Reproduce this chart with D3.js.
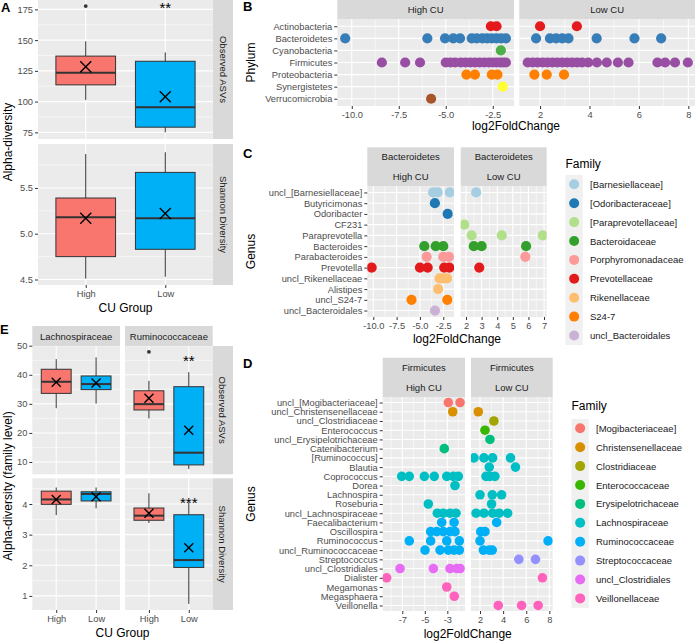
<!DOCTYPE html>
<html><head><meta charset="utf-8">
<script src="https://cdn.jsdelivr.net/npm/d3@7"></script>
<style>body{margin:0;background:#fff}</style>
</head><body><script>
// ---------------- DATA ----------------
const cuGroups = ["High", "Low"];
const groupColors = ["#F8766D", "#00B0F6"];
// box stats: [lowerWhisker, q1, median, q3, upperWhisker, mean]
const aObservedStats = [[101.4, 113.6, 123.5, 137, 149, 128.4], [75, 79.2, 95.5, 132.8, 140, 104]];
const aObservedOutliers = [[177.7], []];
const aShannonStats = [[4.51, 4.75, 5.18, 5.39, 5.87, 5.17], [4.53, 4.83, 5.17, 5.67, 5.89, 5.22]];
const aObservedSig = ["", "**"];
const aTicksObserved = [75, 100, 125, 150, 175];
const aTicksShannon = [4.5, 5.0, 5.5];

const eFamilies = ["Lachnospiraceae", "Ruminococcaceae"];
const eObservedStats = [
  [[28.5, 33.6, 37.6, 41.9, 45.4, 37.4], [30.1, 34.9, 36.8, 39.6, 46, 37.2]],
  [[25, 27.9, 29.9, 34.5, 37.9, 31.9], [7.6, 9.0, 13.2, 35.9, 40.9, 20.9]]];
const eObservedOutliers = [[[], []], [[47.9], []]];
const eShannonStats = [
  [[3.64, 3.99, 4.15, 4.42, 4.54, 4.15], [3.86, 4.1, 4.33, 4.4, 4.54, 4.24]],
  [[3.38, 3.47, 3.62, 3.87, 4.35, 3.7], [0.74, 1.93, 2.17, 3.65, 4.05, 2.57]]];
const eObservedSig = [["", ""], ["", "**"]];
const eShannonSig = [["", ""], ["", "***"]];
const eTicksObserved = [10, 20, 30, 40, 50];
const eTicksShannon = [1, 2, 3, 4];

const phyla = ["Actinobacteria", "Bacteroidetes", "Cyanobacteria", "Firmicutes", "Proteobacteria", "Synergistetes", "Verrucomicrobia"];
const phylumColors = ["#E41A1C", "#377EB8", "#4DAF4A", "#984EA3", "#FF7F00", "#FFFF33", "#A65628"];
const bHighLFC = [
  [-2.6, -2.3],
  [-10.35, -5.98, -5.04, -4.6, -4.24, -3.62, -3.35, -3.05, -2.8, -2.55, -2.3, -2.05, -1.8],
  [-2.07],
  [-8.4, -7.16, -6.37, -5.0, -4.75, -4.5, -4.2, -3.95, -3.7, -3.45, -3.2, -2.95, -2.7, -2.5, -2.3, -2.1, -1.95, -1.8],
  [-3.9, -3.45, -2.55, -2.25],
  [-1.97],
  [-5.78]];
const bLowLFC = [
  [2.0, 3.49],
  [1.84, 2.4, 2.65, 2.9, 3.15, 4.29, 5.82, 6.9],
  [],
  [1.5, 1.7, 1.9, 2.1, 2.3, 2.5, 2.7, 2.9, 3.1, 3.3, 3.5, 3.7, 3.95, 4.3, 4.7, 5.15, 5.58, 6.75, 7.06, 7.46, 7.98],
  [1.77, 2.27, 2.97],
  [],
  []];
const bTicksHigh = [-10, -7.5, -5, -2.5];
const bTicksLow = [2, 4, 6, 8];

const cFamilies = ["[Barnesiellaceae]", "[Odoribacteraceae]", "[Paraprevotellaceae]", "Bacteroidaceae", "Porphyromonadaceae", "Prevotellaceae", "Rikenellaceae", "S24-7", "uncl_Bacteroidales"];
const cFamilyColors = ["#A6CEE3", "#1F78B4", "#B2DF8A", "#33A02C", "#FB9A99", "#E31A1C", "#FDBF6F", "#FF7F00", "#CAB2D6"];
const cGenera = ["uncl_[Barnesiellaceae]", "Butyricimonas", "Odoribacter", "CF231", "Paraprevotella", "Bacteroides", "Parabacteroides", "Prevotella", "uncl_Rikenellaceae", "Alistipes", "uncl_S24-7", "uncl_Bacteroidales"];
const cGenusFamily = [0, 1, 1, 2, 2, 3, 4, 5, 6, 6, 7, 8];
const cHighLFC = [[-3.6, -3.1, -1.8], [-3.4], [-2.03], [], [], [-4.53, -3.31, -2.5], [-4.28, -2.5, -1.9],
  [-10.17, -5.0, -4.17, -2.4, -1.85], [-2.9, -2.5, -2.1], [-3.05], [-5.9, -2.07], [-3.39]];
const cLowLFC = [[2.65], [], [], [1.89], [2.36, 4.29, 6.92], [2.5, 3.0, 5.85], [5.8], [2.85], [], [], [], []];
const cTicksHigh = [-10, -7.5, -5, -2.5];
const cTicksLow = [2, 3, 4, 5, 6, 7];

const dFamilies = ["[Mogibacteriaceae]", "Christensenellaceae", "Clostridiaceae", "Enterococcaceae", "Erysipelotrichaceae", "Lachnospiraceae", "Ruminococcaceae", "Streptococcaceae", "uncl_Clostridiales", "Veillonellaceae"];
const dFamilyColors = ["#F8766D", "#D89000", "#A3A500", "#39B600", "#00BF7D", "#00BFC4", "#00B0F6", "#9590FF", "#E76BF3", "#FF62BC"];
const dGenera = ["uncl_[Mogibacteriaceae]", "uncl_Christensenellaceae", "uncl_Clostridiaceae", "Enterococcus", "uncl_Erysipelotrichaceae", "Catenibacterium", "[Ruminococcus]", "Blautia", "Coprococcus", "Dorea", "Lachnospira", "Roseburia", "uncl_Lachnospiraceae", "Faecalibacterium", "Oscillospira", "Ruminococcus", "uncl_Ruminococcaceae", "Streptococcus", "uncl_Clostridiales", "Dialister", "Megamonas", "Megasphaera", "Veillonella"];
const dGenusFamily = [0, 1, 2, 3, 4, 4, 5, 5, 5, 5, 5, 5, 5, 6, 6, 6, 6, 7, 8, 9, 9, 9, 9];
const dHighLFC = [[-2.91, -1.87], [-2.52], [], [], [], [-3.27], [], [],
  [-7.05, -6.38, -5.04, -4.16, -3.05, -2.47, -2.02], [-2.32], [], [-4.69], [-3.89, -3.36, -2.76, -2.23],
  [-3.5, -2.4], [-4.48, -3.94, -3.36, -2.76, -2.32], [-6.38, -4.48, -3.05, -1.93], [-4.98, -3.65, -2.91, -2.4, -1.93],
  [], [-7.2, -4.24, -2.76, -2.16, -1.87], [-8.39], [-3.05], [-2.38], []];
const dLowLFC = [[], [1.85], [3.2], [2.43], [2.86], [], [1.48, 2.34, 3.09, 4.64], [2.8, 5.07], [2.52, 2.86, 3.29], [],
  [2.0, 3.06, 3.87], [3.0], [1.66, 2.34, 3.09, 3.66, 4.39], [3.44], [2.06, 2.43], [2.0, 7.89], [2.29, 2.8, 3.06],
  [5.36, 6.8], [], [7.4], [], [], [3.58, 5.6, 7.03]];
const dTicksHigh = [-7, -5, -3];
const dTicksLow = [2, 4, 6, 8];

// ---------------- DRAWING ----------------
const W = 696, H = 641;
const FONT = '"Liberation Sans", Arial, Helvetica, sans-serif';
const BG = "#EBEBEB", STRIP = "#D9D9D9";
const svg = d3.select("body").append("svg").attr("width", W).attr("height", H).style("display", "block");
svg.append("rect").attr("width", W).attr("height", H).attr("fill", "#fff");
const defs = svg.append("defs");
let clipN = 0;

function txt(x, y, s, o = {}) {
  const t = svg.append("text").attr("x", x).attr("y", y).text(s)
    .attr("font-family", FONT).attr("font-size", o.size || 9.5)
    .attr("fill", o.fill || "#1A1A1A").attr("text-anchor", o.anchor || "start");
  if (o.weight) t.attr("font-weight", o.weight);
  if (o.rotate != null) t.attr("transform", `rotate(${o.rotate},${x},${y})`);
  if (o.central) t.attr("dominant-baseline", "central");
  return t;
}
function rect(x0, y0, x1, y1, fill) {
  return svg.append("rect").attr("x", x0).attr("y", y0).attr("width", x1 - x0).attr("height", y1 - y0).attr("fill", fill);
}
function line(x1, y1, x2, y2, col, w, parent) {
  return (parent || svg).append("line").attr("x1", x1).attr("y1", y1).attr("x2", x2).attr("y2", y2)
    .attr("stroke", col).attr("stroke-width", w);
}
function minorOf(major, domain) {
  const lo = Math.min(...domain), hi = Math.max(...domain);
  const step = major[1] - major[0];
  const out = [];
  for (let i = -1; i < major.length; i++) {
    const v = (i < 0 ? major[0] - step / 2 : major[i] + step / 2);
    if (v > lo && v < hi) out.push(v);
  }
  return out;
}
function panel(x0, x1, y0, y1, xs, xMajor, xMinor, ys, yMajor, yMinor) {
  rect(x0, y0, x1, y1, BG);
  const p = (s) => (s.bandwidth ? s(s.domain()[0]) !== undefined : true);
  xMinor.forEach(v => line(xs(v), y0, xs(v), y1, "#fff", 0.55));
  yMinor.forEach(v => line(x0, ys(v), x1, ys(v), "#fff", 0.55));
  xMajor.forEach(v => line(xs(v), y0, xs(v), y1, "#fff", 1.1));
  yMajor.forEach(v => line(x0, ys(v), x1, ys(v), "#fff", 1.1));
}
function clipLayer(x0, x1, y0, y1) {
  const id = "clip" + (clipN++);
  defs.append("clipPath").attr("id", id).append("rect").attr("x", x0).attr("y", y0).attr("width", x1 - x0).attr("height", y1 - y0);
  return svg.append("g").attr("clip-path", `url(#${id})`);
}
function axis(gen, tx, ty) {
  const g = svg.append("g").attr("transform", `translate(${tx},${ty})`).call(gen);
  g.attr("font-family", FONT).attr("font-size", 9.3);
  g.select(".domain").remove();
  g.selectAll(".tick line").attr("stroke", "#333333");
  g.selectAll(".tick text").attr("fill", "#4D4D4D");
  return g;
}
const fmt1 = v => v.toFixed(1);
const fmt0 = v => String(v);
function strip(x0, x1, y0, y1, lines, vertical) {
  rect(x0, y0, x1, y1, STRIP);
  const cx = (x0 + x1) / 2, cy = (y0 + y1) / 2;
  if (vertical) {
    txt(cx, cy, lines[0], {anchor: "middle", rotate: 90, central: true});
  } else if (lines.length === 1) {
    txt(cx, cy, lines[0], {anchor: "middle", central: true});
  } else {
    const h = (y1 - y0) / lines.length;
    lines.forEach((l, i) => txt(cx, y0 + h * (i + 0.5), l, {anchor: "middle", central: true}));
  }
}
function drawBox(cx, hw, ys, s, color, outliers, meanSize) {
  const [lo, q1, med, q3, hi, mean] = s;
  line(cx, ys(hi), cx, ys(q3), "#333333", 1);
  line(cx, ys(q1), cx, ys(lo), "#333333", 1);
  svg.append("rect").attr("x", cx - hw).attr("y", ys(q3)).attr("width", 2 * hw).attr("height", ys(q1) - ys(q3))
    .attr("fill", color).attr("stroke", "#333333").attr("stroke-width", 1);
  line(cx - hw, ys(med), cx + hw, ys(med), "#333333", 2);
  (outliers || []).forEach(v => svg.append("circle").attr("cx", cx).attr("cy", ys(v)).attr("r", 1.9).attr("fill", "#333333"));
  const m = ys(mean), k = meanSize;
  line(cx - k, m - k, cx + k, m + k, "#000", 1.4);
  line(cx - k, m + k, cx + k, m - k, "#000", 1.4);
}
function sig(x, y, s) {
  if (s) txt(x, y + 8.6, s, {anchor: "middle", size: 15, fill: "#000"});
}

// ===== Panel A =====
{
  const x0 = 38, x1 = 213;
  const xs = d3.scalePoint().domain(cuGroups).range([x0, x1]).padding(0.6);
  const hw = xs.step() * 0.375;
  const yObs = d3.scaleLinear().domain([69.6, 182.6]).range([139, 0]);
  const ySha = d3.scaleLinear().domain([4.44, 5.98]).range([285, 144]);
  panel(x0, x1, 0, 139, xs, cuGroups, [], yObs, aTicksObserved, minorOf(aTicksObserved, yObs.domain()));
  panel(x0, x1, 144, 285, xs, cuGroups, [], ySha, aTicksShannon, minorOf(aTicksShannon, ySha.domain()));
  cuGroups.forEach((g, i) => {
    drawBox(xs(g), hw, yObs, aObservedStats[i], groupColors[i], aObservedOutliers[i], 5.5);
    drawBox(xs(g), hw, ySha, aShannonStats[i], groupColors[i], [], 5.5);
    sig(xs(g), yObs(178.9), aObservedSig[i]);
  });
  strip(x1, 233, 0, 139, ["Observed ASVs"], true);
  strip(x1, 233, 144, 285, ["Shannon Diversity"], true);
  axis(d3.axisLeft(yObs).tickValues(aTicksObserved).tickSize(3).tickPadding(2).tickFormat(fmt0), x0, 0);
  axis(d3.axisLeft(ySha).tickValues(aTicksShannon).tickSize(3).tickPadding(2).tickFormat(fmt1), x0, 0);
  axis(d3.axisBottom(xs).tickSize(3).tickPadding(2), 0, 285);
  txt(125.5, 311.5, "CU Group", {anchor: "middle", size: 12, fill: "#000"});
  txt(12, 142, "Alpha-diversity", {anchor: "middle", size: 12, fill: "#000", rotate: -90});
  txt(1, 12, "A", {size: 13, weight: "bold", fill: "#000"});
}

// ===== Panel E =====
{
  const cols = [[32.3, 120], [125, 212.7]];
  const yObs = d3.scaleLinear().domain([5.77, 49.9]).range([474.3, 346]);
  const ySha = d3.scaleLinear().domain([0.54, 4.84]).range([610, 478.3]);
  cols.forEach(([x0, x1], f) => {
    const xs = d3.scalePoint().domain(cuGroups).range([x0, x1]).padding(0.6);
    const hw = xs.step() * 0.375;
    panel(x0, x1, 346, 474.3, xs, cuGroups, [], yObs, eTicksObserved, minorOf(eTicksObserved, yObs.domain()));
    panel(x0, x1, 478.3, 610, xs, cuGroups, [], ySha, eTicksShannon, minorOf(eTicksShannon, ySha.domain()));
    cuGroups.forEach((g, i) => {
      drawBox(xs(g), hw, yObs, eObservedStats[f][i], groupColors[i], eObservedOutliers[f][i], 4.5);
      drawBox(xs(g), hw, ySha, eShannonStats[f][i], groupColors[i], [], 4.5);
      sig(xs(g), yObs(45.9), eObservedSig[f][i]);
      sig(xs(g), ySha(4.16), eShannonSig[f][i]);
    });
    strip(x0, x1, 326, 346, [eFamilies[f]], false);
    axis(d3.axisBottom(xs).tickSize(3).tickPadding(2), 0, 610);
  });
  strip(212.7, 233, 346, 474.3, ["Observed ASVs"], true);
  strip(212.7, 233, 478.3, 610, ["Shannon Diversity"], true);
  axis(d3.axisLeft(yObs).tickValues(eTicksObserved).tickSize(3).tickPadding(2).tickFormat(fmt0), 32.3, 0);
  axis(d3.axisLeft(ySha).tickValues(eTicksShannon).tickSize(3).tickPadding(2).tickFormat(fmt0), 32.3, 0);
  txt(122.5, 637, "CU Group", {anchor: "middle", size: 12, fill: "#000"});
  txt(12, 486, "Alpha-diversity (family level)", {anchor: "middle", size: 12, fill: "#000", rotate: -90});
  txt(0, 334, "E", {size: 13, weight: "bold", fill: "#000"});
}

// ===== generic dot-plot panel pair =====
function dotPanels(cfg) {
  const ys = d3.scalePoint().domain(cfg.cats).range([cfg.y0, cfg.y1]).padding(0.6);
  [["high", cfg.xHigh, cfg.domHigh, cfg.ticksHigh, cfg.valsHigh, cfg.stripHigh],
   ["low", cfg.xLow, cfg.domLow, cfg.ticksLow, cfg.valsLow, cfg.stripLow]].forEach(([k, xr, dom, ticks, vals, st]) => {
    const xs = d3.scaleLinear().domain(dom).range(xr);
    panel(xr[0], xr[1], cfg.y0, cfg.y1, xs, ticks, minorOf(ticks, dom), ys, cfg.cats, []);
    strip(xr[0], xr[1], cfg.sy0, cfg.y0, st, false);
    const layer = clipLayer(xr[0], xr[1], cfg.y0, cfg.y1);
    cfg.cats.forEach((c, i) => {
      vals[i].forEach(v => layer.append("circle").attr("cx", xs(v)).attr("cy", ys(c)).attr("r", cfg.r)
        .attr("fill", cfg.color(i)));
    });
    axis(d3.axisBottom(xs).tickValues(ticks).tickSize(3).tickPadding(2).tickFormat(cfg.fmt), 0, cfg.y1);
  });
  axis(d3.axisLeft(ys).tickSize(3).tickPadding(2), cfg.xHigh[0], 0);
}
function legend(x, titleY, firstY, names, colors) {
  txt(x, titleY, "Family", {size: 12, fill: "#000"});
  const step = 18.9;
  rect(x, firstY - step / 2, x + 17.3, firstY + step * (names.length - 0.5), "#F0F0F0");
  names.forEach((n, i) => {
    const y = firstY + i * step;
    svg.append("circle").attr("cx", x + 8.65).attr("cy", y).attr("r", 5).attr("fill", colors[i]);
    txt(x + 24.5, y, n, {central: true, size: 9.5});
  });
}

// ===== Panel B =====
dotPanels({
  cats: phyla, y0: 19, y1: 106, sy0: 0,
  xHigh: [337.3, 514], domHigh: [-10.77, -1.37], ticksHigh: bTicksHigh, valsHigh: bHighLFC, stripHigh: ["High CU"],
  xLow: [519.3, 695], domLow: [1.16, 8.27], ticksLow: bTicksLow, valsLow: bLowLFC, stripLow: ["Low CU"],
  color: i => phylumColors[i], r: 5.1,
  fmt: v => (Number.isInteger(v) && v > 0 ? String(v) : v.toFixed(1))
});
txt(516, 130, "log2FoldChange", {anchor: "middle", size: 12, fill: "#000"});
txt(254.5, 62.5, "Phylum", {anchor: "middle", size: 12, fill: "#000", rotate: -90});
txt(243, 11, "B", {size: 13, weight: "bold", fill: "#000"});

// ===== Panel C =====
dotPanels({
  cats: cGenera, y0: 186, y1: 317, sy0: 147.3,
  xHigh: [367.3, 454], domHigh: [-10.64, -1.35], ticksHigh: cTicksHigh, valsHigh: cHighLFC, stripHigh: ["Bacteroidetes", "High CU"],
  xLow: [460.7, 546.7], domLow: [1.66, 7.17], ticksLow: cTicksLow, valsLow: cLowLFC, stripLow: ["Bacteroidetes", "Low CU"],
  color: i => cFamilyColors[cGenusFamily[i]], r: 5.1,
  fmt: v => (v > 0 ? String(v) : v.toFixed(1))
});
txt(457, 343, "log2FoldChange", {anchor: "middle", size: 12, fill: "#000"});
txt(254.5, 251.5, "Genus", {anchor: "middle", size: 12, fill: "#000", rotate: -90});
txt(243, 158, "C", {size: 13, weight: "bold", fill: "#000"});
legend(565.5, 168, 184.3, cFamilies, cFamilyColors);

// ===== Panel D =====
dotPanels({
  cats: dGenera, y0: 397, y1: 611, sy0: 357.7,
  xHigh: [382.7, 465], domHigh: [-8.74, -1.43], ticksHigh: dTicksHigh, valsHigh: dHighLFC, stripHigh: ["Firmicutes", "High CU"],
  xLow: [471, 552.7], domLow: [1.22, 8.29], ticksLow: dTicksLow, valsLow: dLowLFC, stripLow: ["Firmicutes", "Low CU"],
  color: i => dFamilyColors[dGenusFamily[i]], r: 4.8,
  fmt: fmt0
});
txt(467.7, 638, "log2FoldChange", {anchor: "middle", size: 12, fill: "#000"});
txt(254.5, 504, "Genus", {anchor: "middle", size: 12, fill: "#000", rotate: -90});
txt(243, 368, "D", {size: 13, weight: "bold", fill: "#000"});
legend(571.5, 410, 428.3, dFamilies, dFamilyColors);
</script></body></html>
